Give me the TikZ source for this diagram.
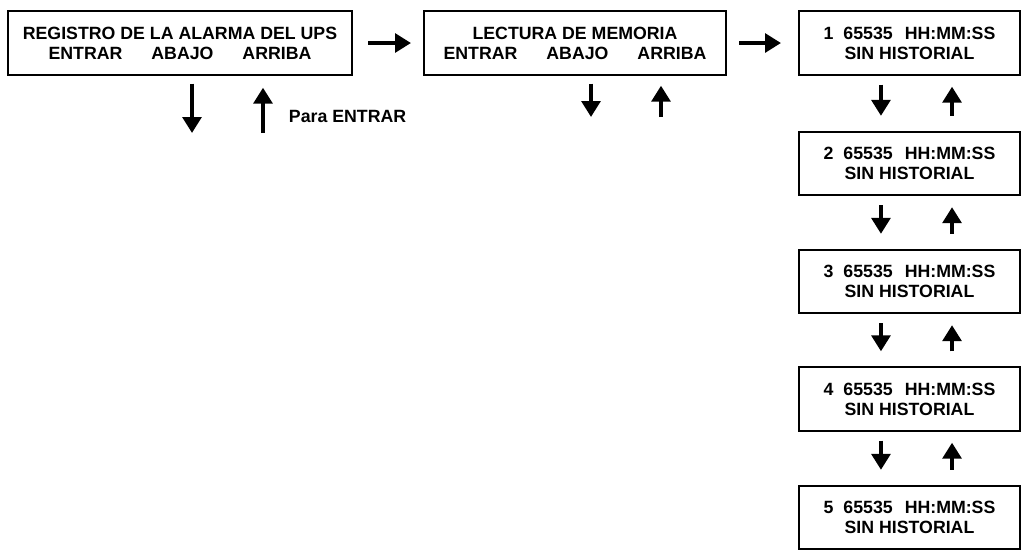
\documentclass[tikz,border=0pt]{standalone}
\usepackage{fontspec}
\setmainfont{Liberation Sans}
\usetikzlibrary{arrows.meta}

\tikzset{every picture/.style={line width=0.75pt}}
\tikzset{
  pantalla/.style={draw, line width=1.5pt, align=center, inner sep=0pt,
    font=\fontsize{13.3}{15}\selectfont\bfseries},
  ancho/.style={minimum width=#1, minimum height=47.5pt},
  flecha/.style={line width=3.2pt, -{Triangle[width=14pt,length=12pt]}},
  rotulo/.style={font=\fontsize{13.3}{15}\selectfont\bfseries}
}
\newcommand{\teclas}{ENTRAR\hspace{21.75pt}ABAJO\hspace{21.75pt}ARRIBA}
\newcommand{\huecos}[1]{#1\hspace{7.5pt}65535\hspace{9pt}HH:MM:SS\\SIN HISTORIAL}

\begin{document}
\begin{tikzpicture}[x=0.75pt,y=0.75pt,yscale=-1,xscale=1]
	\useasboundingbox (0,0) rectangle (1029,551);

	% Pantallas de arriba
	\node [pantalla, ancho=258pt] (registro) at (180,43) {REGISTRO DE LA ALARMA DEL UPS\\\teclas};
	\node [pantalla, ancho=226.5pt] (lectura) at (575,43) {LECTURA DE MEMORIA\\\teclas};

	% Columna de historial
	\node [pantalla, ancho=165.75pt] (hist1) at (909.5,43) {\huecos{1}};
	\node [pantalla, ancho=165.75pt] (hist2) at (909.5,163.5) {\huecos{2}};
	\node [pantalla, ancho=165.75pt] (hist3) at (909.5,281.5) {\huecos{3}};
	\node [pantalla, ancho=165.75pt] (hist4) at (909.5,399) {\huecos{4}};
	\node [pantalla, ancho=165.75pt] (hist5) at (909.5,517.5) {\huecos{5}};

	% Flechas horizontales
	\draw [flecha, shorten <=11.25pt, shorten >=9pt] (registro.east) -- (lectura.west);
	\draw [flecha, shorten <=9pt, shorten >=12.75pt] (lectura.east) -- (hist1.west);

	% Flechas bajo REGISTRO
	\coordinate (abajo1) at (192,133);
	\coordinate (arriba1) at (263,133);
	\draw [flecha] ([xshift=9pt,yshift=6pt]registro.south) -- (abajo1);
	\draw [flecha] (arriba1) -- ([xshift=62.25pt,yshift=9pt]registro.south);
	\node [rotulo, anchor=west] (para) at (284,116) {Para ENTRAR};

	% Flechas bajo LECTURA
	\coordinate (abajo2) at (591,117);
	\coordinate (arriba2) at (661,117);
	\draw [flecha] ([xshift=12pt,yshift=6pt]lectura.south) -- (abajo2);
	\draw [flecha] (arriba2) -- ([xshift=64.5pt,yshift=7.5pt]lectura.south);

	% Flechas entre pantallas del historial
	\draw [flecha, shorten <=6.75pt, shorten >=11.25pt] ([xshift=-21.4pt]hist1.south) -- ([xshift=-21.4pt]hist2.north);
	\draw [flecha, shorten <=11.25pt, shorten >=8.25pt] ([xshift=31.9pt]hist2.north) -- ([xshift=31.9pt]hist1.south);
	\draw [flecha, shorten <=6.75pt, shorten >=11.25pt] ([xshift=-21.4pt]hist2.south) -- ([xshift=-21.4pt]hist3.north);
	\draw [flecha, shorten <=11.25pt, shorten >=8.25pt] ([xshift=31.9pt]hist3.north) -- ([xshift=31.9pt]hist2.south);
	\draw [flecha, shorten <=6.75pt, shorten >=11.25pt] ([xshift=-21.4pt]hist3.south) -- ([xshift=-21.4pt]hist4.north);
	\draw [flecha, shorten <=11.25pt, shorten >=8.25pt] ([xshift=31.9pt]hist4.north) -- ([xshift=31.9pt]hist3.south);
	\draw [flecha, shorten <=6.75pt, shorten >=11.25pt] ([xshift=-21.4pt]hist4.south) -- ([xshift=-21.4pt]hist5.north);
	\draw [flecha, shorten <=11.25pt, shorten >=8.25pt] ([xshift=31.9pt]hist5.north) -- ([xshift=31.9pt]hist4.south);

\end{tikzpicture}
\end{document}
